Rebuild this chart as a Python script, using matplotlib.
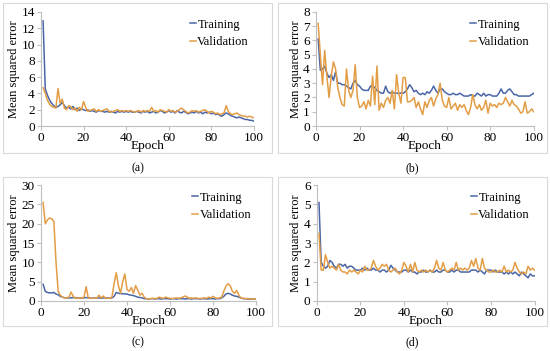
import matplotlib.pyplot as plt
from matplotlib.patches import Rectangle

plt.rcParams['font.family'] = ['Liberation Serif', 'DejaVu Serif']

epochs = list(range(1, 101))

# (a)
train_a = [12.9, 4.6, 3.8, 3.2, 2.8, 2.5, 2.3, 2.4, 2.6, 2.9, 2.5, 2.2, 2.3, 2.1, 2.4, 2.0, 2.2, 1.9, 2.1, 2.0,
           1.9, 2.0, 1.8, 1.9, 1.8, 1.7, 1.9, 1.8, 1.8, 1.7, 1.8, 1.7, 1.8, 1.7, 1.6, 1.8, 1.7, 1.8, 1.7, 1.8,
           1.7, 1.8, 1.7, 1.7, 1.8, 1.7, 1.6, 1.8, 1.7, 1.8, 1.6, 1.7, 1.8, 1.6, 1.7, 1.9, 1.8, 1.6, 1.7, 1.9,
           1.7, 1.8, 1.6, 1.9, 1.7, 1.6, 1.8, 1.7, 1.5, 1.6, 1.7, 1.6, 1.8, 1.6, 1.7, 1.5, 1.7, 1.6, 1.7, 1.5,
           1.6, 1.4, 1.5, 1.3, 1.2, 1.4, 1.6, 1.5, 1.3, 1.2, 1.1, 1.0, 1.1, 1.0, 0.9, 0.8, 0.8, 0.7, 0.7, 0.6]
val_a = [4.7, 4.0, 3.2, 2.7, 2.4, 2.3, 2.2, 4.6, 2.8, 3.3, 2.2, 2.0, 2.5, 2.4, 2.0, 2.2, 1.8, 2.3, 2.0, 3.0,
         2.3, 1.8, 1.9, 2.0, 2.1, 1.8, 2.0, 1.8, 1.9, 2.0, 2.1, 1.8, 1.7, 1.8, 1.9, 2.0, 1.8, 1.9, 1.8, 1.9,
         1.8, 1.9, 1.8, 1.7, 1.8, 1.9, 1.7, 1.9, 1.8, 1.9, 1.8, 2.3, 1.8, 1.9, 1.7, 2.0, 1.9, 1.8, 1.7, 2.0,
         1.8, 1.9, 1.7, 1.8, 2.0, 2.2, 2.0, 1.8, 1.6, 1.7, 1.9, 1.8, 1.9, 1.7, 1.8, 1.9, 2.0, 1.8, 1.6, 1.8,
         1.7, 1.5, 1.6, 1.4, 1.5, 1.6, 2.5, 1.8, 1.5, 1.4, 1.5, 1.6, 1.4, 1.3, 1.2, 1.2, 1.1, 1.2, 1.1, 1.0]

# (b)
train_b = [6.1, 3.9, 4.0, 4.2, 3.7, 3.4, 3.6, 3.2, 3.8, 3.0, 3.0, 2.9, 2.9, 2.8, 2.7, 2.6, 3.0, 3.2, 2.9, 2.8,
           2.6, 2.5, 2.5, 2.5, 2.8, 2.8, 2.7, 2.5, 2.4, 2.3, 2.3, 2.8, 2.4, 2.3, 2.4, 2.3, 2.3, 2.3, 2.3, 2.3,
           2.4, 2.6, 2.9, 2.7, 2.4, 2.5, 2.3, 2.2, 2.3, 2.2, 2.4, 2.3, 2.5, 2.8, 2.5, 2.3, 2.6, 2.6, 2.4, 2.3,
           2.2, 2.2, 2.3, 2.2, 2.2, 2.3, 2.2, 2.1, 2.1, 2.1, 2.2, 2.1, 2.1, 2.3, 2.2, 2.1, 2.3, 2.1, 2.2, 2.2,
           2.1, 2.1, 2.1, 2.3, 2.6, 2.3, 2.3, 2.5, 2.6, 2.4, 2.2, 2.2, 2.1, 2.1, 2.1, 2.1, 2.1, 2.1, 2.2, 2.3]
val_b = [7.2, 5.0, 2.9, 5.3, 3.5, 2.0, 3.5, 4.5, 4.0, 2.7, 2.0, 1.5, 1.4, 4.0, 2.5, 2.0, 2.5, 4.3, 2.0, 1.3,
         1.4, 1.7, 1.2, 1.8, 1.4, 3.5, 1.5, 4.2, 1.1, 1.6, 1.3, 1.8, 2.0, 1.6, 2.5, 1.2, 3.6, 2.3, 1.6, 3.4,
         3.4, 1.7, 1.7, 1.8, 2.0, 1.3, 1.7, 1.2, 0.8, 1.7, 1.3, 1.8, 2.0, 1.4, 1.9, 2.2, 3.0, 1.8, 1.4, 1.3,
         2.0, 1.2, 1.4, 1.6, 1.1, 1.5, 1.3, 1.5, 1.1, 0.8, 1.3, 2.2, 1.5, 1.2, 1.5, 1.1, 1.3, 1.8, 0.9, 1.6,
         1.4, 1.5, 1.3, 1.6, 1.5, 1.6, 2.0, 1.7, 1.4, 1.8, 1.5, 1.4, 1.2, 0.9, 1.0, 1.7, 0.9, 1.0, 1.2, 1.0]

# (c)
train_c = [4.3, 2.5, 2.2, 2.1, 2.1, 2.2, 1.8, 1.6, 1.2, 1.0, 0.8, 0.8, 0.8, 0.8, 0.9, 0.8, 0.8, 0.7, 0.8, 0.8,
           0.9, 0.8, 0.8, 0.7, 0.8, 0.8, 0.8, 0.7, 0.8, 0.8, 0.8, 0.7, 0.8, 1.2, 2.2, 2.0, 1.9, 1.9, 1.8, 1.8,
           1.6, 1.5, 1.4, 1.2, 1.0, 0.9, 0.8, 0.6, 0.6, 0.5, 0.6, 0.6, 0.5, 0.6, 0.6, 0.5, 0.6, 0.6, 0.6, 0.5,
           0.6, 0.6, 0.5, 0.6, 0.6, 0.6, 0.5, 0.6, 0.6, 0.5, 0.6, 0.6, 0.6, 0.5, 0.6, 0.6, 0.5, 0.6, 0.6, 0.6,
           0.5, 0.6, 0.6, 0.8, 1.2, 1.8, 2.0, 1.8, 1.5, 1.3, 1.2, 1.0, 0.8, 0.6, 0.6, 0.5, 0.5, 0.5, 0.5, 0.5]
val_c = [25.5, 20.0, 21.0, 21.5, 21.3, 20.5, 10.0, 2.5, 1.5, 1.0, 0.8, 0.8, 1.0, 2.3, 1.2, 0.7, 0.7, 0.8, 0.8, 1.0,
         3.7, 0.8, 0.7, 0.7, 0.8, 0.7, 1.5, 0.8, 1.3, 0.7, 0.7, 0.7, 1.0, 4.5, 7.3, 4.0, 2.0, 5.0, 7.0, 3.0,
         2.5, 3.5, 2.0, 4.0, 2.8, 1.5, 2.0, 1.0, 0.6, 0.5, 0.6, 0.7, 0.6, 0.7, 1.0, 0.8, 0.7, 1.0, 0.8, 0.7,
         0.6, 0.7, 0.8, 0.7, 0.8, 1.0, 1.3, 1.0, 0.7, 0.8, 0.7, 0.8, 0.7, 0.6, 0.7, 0.8, 0.7, 1.0, 0.8, 1.2,
         0.8, 0.7, 0.8, 1.0, 2.5, 3.8, 4.5, 4.0, 2.5, 2.0, 2.7, 1.5, 0.8, 0.7, 0.6, 0.6, 0.6, 0.5, 0.5, 0.5]

# (d)
train_d = [5.1, 2.0, 1.8, 1.7, 1.8, 2.1, 2.0, 1.8, 1.7, 1.9, 1.9, 1.8, 1.9, 1.7, 1.8, 1.8, 1.7, 1.6, 1.6, 1.6,
           1.7, 1.6, 1.7, 1.6, 1.6, 1.7, 1.6, 1.6, 1.5, 1.6, 1.6, 1.5, 1.6, 1.85, 1.7, 1.6, 1.5, 1.5, 1.5, 1.6,
           1.6, 1.5, 1.6, 1.5, 1.5, 1.4, 1.5, 1.5, 1.6, 1.5, 1.5, 1.6, 1.5, 1.5, 1.6, 1.5, 1.5, 1.6, 1.6, 1.5,
           1.5, 1.6, 1.5, 1.6, 1.6, 1.5, 1.5, 1.5, 1.5, 1.5, 1.6, 1.6, 1.6, 1.5, 1.6, 1.5, 1.4, 1.6, 1.6, 1.6,
           1.5, 1.6, 1.5, 1.5, 1.5, 1.4, 1.5, 1.4, 1.5, 1.4, 1.5, 1.4, 1.3, 1.5, 1.4, 1.3, 1.2, 1.4, 1.3, 1.3]
val_d = [3.5, 1.6, 1.6, 2.4, 2.0, 1.7, 1.8, 1.7, 1.6, 1.9, 1.6, 1.5, 1.5, 1.4, 1.6, 1.5, 1.6, 1.5, 1.4, 1.6,
         1.5, 1.8, 1.6, 1.6, 1.7, 2.1, 1.8, 1.6, 1.7, 1.9, 1.8, 1.9, 1.6, 1.5, 1.6, 1.7, 1.5, 1.4, 1.6, 2.0,
         1.8, 1.5, 1.9, 1.5, 2.0, 1.6, 1.5, 1.6, 1.5, 1.6, 1.5, 1.6, 1.5, 1.7, 2.1, 1.7, 1.6, 2.0, 1.6, 1.5,
         1.6, 1.7, 1.6, 2.0, 1.6, 1.7, 1.6, 1.7, 1.6, 1.7, 2.1, 1.8, 2.2, 1.7, 1.6, 2.2, 1.7, 1.6, 1.5, 1.5,
         1.6, 1.5, 1.5, 1.6, 1.5, 1.8, 1.5, 1.6, 1.5, 1.6, 2.0, 1.7, 1.5, 1.4, 1.5, 1.4, 1.8, 1.6, 1.7, 1.6]

panels = [
    ('(a)', train_a, val_a, 14, 2, [0.0745, 0.641, 0.387, 0.325]),
    ('(b)', train_b, val_b, 8, 1, [0.5745, 0.641, 0.396, 0.325]),
    ('(c)', train_c, val_c, 30, 5, [0.0745, 0.1425, 0.391, 0.33]),
    ('(d)', train_d, val_d, 6, 1, [0.576, 0.1425, 0.396, 0.33]),
]

# outer frames (left, bottom, width, height) in figure fractions
frames = [
    [0.006, 0.565, 0.488, 0.427],
    [0.506, 0.565, 0.488, 0.427],
    [0.006, 0.07, 0.488, 0.427],
    [0.506, 0.07, 0.488, 0.427],
]

blue = '#4A66A6'
orange = '#E39D45'
grey = '#bfbfbf'

fig = plt.figure(figsize=(5.5, 3.51), dpi=100)

for (cap, tr, va, ymax, ystep, pos), fr in zip(panels, frames):
    fig.patches.append(Rectangle((fr[0], fr[1]), fr[2], fr[3], transform=fig.transFigure,
                                 fill=False, edgecolor='#d9d9d9', linewidth=0.8))
    ax = fig.add_axes(pos)
    ax.plot(epochs, tr, color=blue, lw=1.1, label='Training')
    ax.plot(epochs, va, color=orange, lw=1.1, label='Validation')
    ax.set_xlim(0, 100)
    ax.set_ylim(0, ymax)
    ax.set_xticks(range(0, 101, 20))
    ax.set_yticks(range(0, ymax + 1, ystep))
    for s in ['top', 'right']:
        ax.spines[s].set_visible(False)
    for s in ['left', 'bottom']:
        ax.spines[s].set_color(grey)
        ax.spines[s].set_linewidth(0.8)
    ax.tick_params(labelsize=9.5, length=3, width=0.8, color=grey, pad=1.5)
    ax.set_xlabel('Epoch', fontsize=9.5, labelpad=-3)
    ax.set_ylabel('Mean squared error', fontsize=9, labelpad=1)
    ax.legend(loc='upper right', bbox_to_anchor=(1.03, 1.04), frameon=False, fontsize=9,
              handlelength=0.5, handletextpad=0.1, labelspacing=0.45)
    fig.text(fr[0] + fr[2] / 2, fr[1] - 0.045, cap, ha='center', va='center', fontsize=8.5)

fig.savefig('out.png', dpi=100)
